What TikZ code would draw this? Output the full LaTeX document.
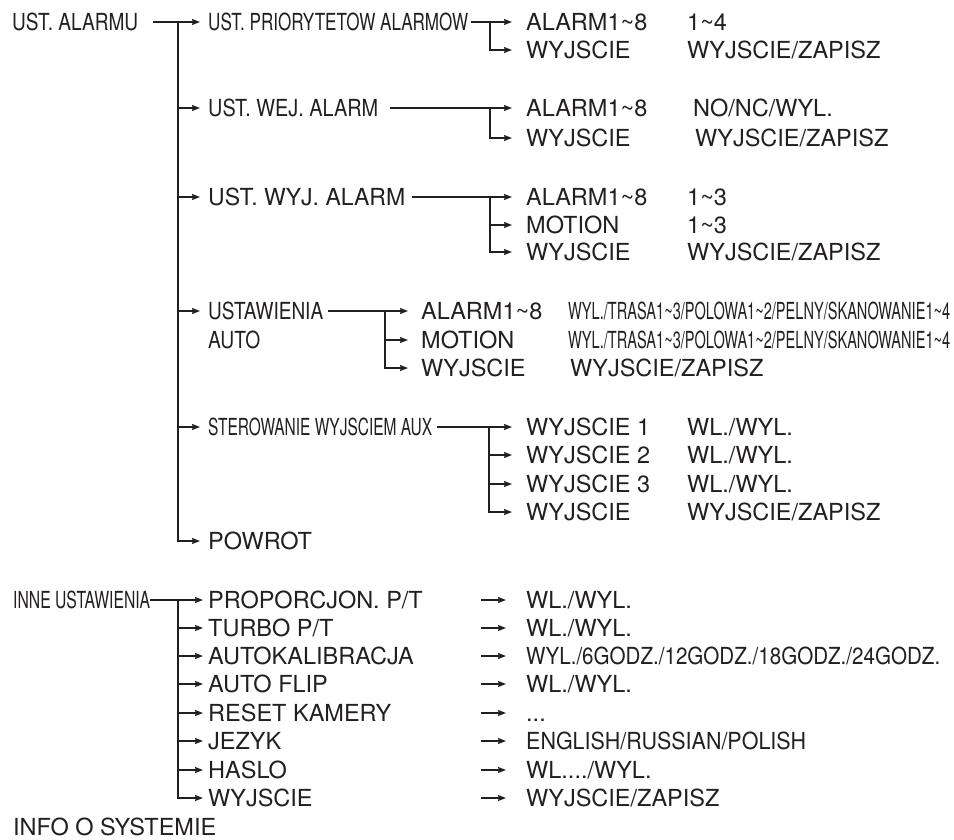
\documentclass[tikz,border=0pt]{standalone}
\usepackage{fontspec}
\usepackage{graphicx}
\setmainfont{TeX Gyre Heros}
\usetikzlibrary{arrows.meta}
\definecolor{ink}{RGB}{35,31,32}
\newcommand{\sqz}[2]{\resizebox{#1pt}{\height}{#2}}
\begin{document}
\begin{tikzpicture}[x=1pt,y=-1pt,
  lbl/.style={anchor=west, inner sep=0pt, text height=17pt, text depth=0pt,
              font=\fontsize{23.5}{28}\selectfont, text=ink},
  ln/.style={draw=ink, line width=1.6pt},
  arr/.style={ln, -{Stealth[length=8pt,width=6pt,inset=1pt]}}]
\path[use as bounding box] (0,0) rectangle (954,839);

% ---------- UST. ALARMU ----------
\node[lbl] (root) at (12,22) {\sqz{126}{UST. ALARMU}};
\node[lbl] (c1) at (208,22) {\sqz{260}{UST. PRIORYTETOW ALARMOW}};
\node[lbl] (c2) at (208,108) {\sqz{170}{UST. WEJ. ALARM}};
\node[lbl] (c3) at (208,197) {\sqz{197}{UST. WYJ. ALARM}};
\node[lbl] (c4) at (208,311) {\sqz{115}{USTAWIENIA}};
\node[lbl] (c4b) at (208,340) {\sqz{52}{AUTO}};
\node[lbl] (c5) at (208,427) {\sqz{224}{STEROWANIE WYJSCIEM AUX}};
\node[lbl] (c6) at (208,541) {POWROT};
\coordinate (va) at (178,0);
\draw[arr] ([xshift=15pt]root.east) -- ([xshift=-8pt]c1.west);
\draw[arr] (va |- c1.west) |- ([xshift=-8pt]c6.west);
\foreach \k in {2,...,5} \draw[arr] (va |- c\k.west) -- ([xshift=-8pt]c\k.west);

% group 1
\node[lbl] (g1a) at (526,22) {ALARM1\textasciitilde 8};
\node[lbl] (g1b) at (526,50) {WYJSCIE};
\node[lbl] (h1a) at (687,22) {1\textasciitilde 4};
\node[lbl] (h1b) at (687,50) {WYJSCIE/ZAPISZ};
\coordinate (vb1) at (490,0);
\draw[arr] ([xshift=3pt]c1.east) -- ([xshift=-14pt]g1a.west);
\draw[arr] (vb1 |- g1a.west) |- ([xshift=-14pt]g1b.west);

% group 2
\node[lbl] (g2a) at (526,108) {ALARM1\textasciitilde 8};
\node[lbl] (g2b) at (526,138) {WYJSCIE};
\node[lbl] (h2a) at (693,108) {NO/NC/WYL.};
\node[lbl] (h2b) at (695,138) {WYJSCIE/ZAPISZ};
\coordinate (vb2) at (490,0);
\draw[arr] ([xshift=12pt]c2.east) -- ([xshift=-14pt]g2a.west);
\draw[arr] (vb2 |- g2a.west) |- ([xshift=-14pt]g2b.west);

% group 3
\node[lbl] (g3a) at (526,197) {ALARM1\textasciitilde 8};
\node[lbl] (g3b) at (526,225) {MOTION};
\node[lbl] (g3c) at (526,252) {WYJSCIE};
\node[lbl] (h3a) at (687,197) {1\textasciitilde 3};
\node[lbl] (h3b) at (687,225) {1\textasciitilde 3};
\node[lbl] (h3c) at (687,252) {WYJSCIE/ZAPISZ};
\coordinate (vb3) at (490,0);
\draw[arr] ([xshift=7pt]c3.east) -- ([xshift=-14pt]g3a.west);
\draw[arr] (vb3 |- g3a.west) |- ([xshift=-14pt]g3c.west);
\draw[arr] (vb3 |- g3b.west) -- ([xshift=-14pt]g3b.west);

% group 4
\node[lbl] (g4a) at (421,311) {ALARM1\textasciitilde 8};
\node[lbl] (g4b) at (421,340) {MOTION};
\node[lbl] (g4c) at (421,368) {WYJSCIE};
\node[lbl] (h4a) at (568,311) {\sqz{382}{WYL./TRASA1\textasciitilde 3/POLOWA1\textasciitilde 2/PELNY/SKANOWANIE1\textasciitilde 4}};
\node[lbl] (h4b) at (568,340) {\sqz{382}{WYL./TRASA1\textasciitilde 3/POLOWA1\textasciitilde 2/PELNY/SKANOWANIE1\textasciitilde 4}};
\node[lbl] (h4c) at (570,368) {WYJSCIE/ZAPISZ};
\coordinate (vb4) at (385,0);
\draw[arr] ([xshift=5pt]c4.east) -- ([xshift=-13pt]g4a.west);
\draw[arr] (vb4 |- g4a.west) |- ([xshift=-13pt]g4c.west);
\draw[arr] (vb4 |- g4b.west) -- ([xshift=-13pt]g4b.west);

% group 5
\node[lbl] (g5a) at (526,427) {WYJSCIE 1};
\node[lbl] (g5b) at (526,455) {WYJSCIE 2};
\node[lbl] (g5c) at (526,484) {WYJSCIE 3};
\node[lbl] (g5d) at (526,512) {WYJSCIE};
\node[lbl] (h5a) at (687,427) {WL./WYL.};
\node[lbl] (h5b) at (687,455) {WL./WYL.};
\node[lbl] (h5c) at (687,484) {WL./WYL.};
\node[lbl] (h5d) at (687,512) {WYJSCIE/ZAPISZ};
\coordinate (vb5) at (489,0);
\draw[arr] ([xshift=5pt]c5.east) -- ([xshift=-14pt]g5a.west);
\draw[arr] (vb5 |- g5a.west) |- ([xshift=-14pt]g5d.west);
\draw[arr] (vb5 |- g5b.west) -- ([xshift=-14pt]g5b.west);
\draw[arr] (vb5 |- g5c.west) -- ([xshift=-14pt]g5c.west);

% ---------- INNE USTAWIENIA ----------
\node[lbl] (root2) at (13,600) {\sqz{137}{INNE USTAWIENIA}};
\node[lbl] (d1) at (208,600) {PROPORCJON. P/T};
\node[lbl] (d2) at (208,628) {TURBO P/T};
\node[lbl] (d3) at (208,656) {AUTOKALIBRACJA};
\node[lbl] (d4) at (208,684) {AUTO FLIP};
\node[lbl] (d5) at (208,713) {RESET KAMERY};
\node[lbl] (d6) at (208,741) {JEZYK};
\node[lbl] (d7) at (208,770) {HASLO};
\node[lbl] (d8) at (208,798) {WYJSCIE};
\node[lbl] (e1) at (526,600) {WL./WYL.};
\node[lbl] (e2) at (526,628) {WL./WYL.};
\node[lbl] (e3) at (526,656) {\sqz{414}{WYL./6GODZ./12GODZ./18GODZ./24GODZ.}};
\node[lbl] (e4) at (526,684) {WL./WYL.};
\node[lbl] (e5) at (526,713) {...};
\node[lbl] (e6) at (526,741) {\sqz{280}{ENGLISH/RUSSIAN/POLISH}};
\node[lbl] (e7) at (526,770) {WL..../WYL.};
\node[lbl] (e8) at (526,798) {WYJSCIE/ZAPISZ};
\coordinate (vc) at (178,0);
\draw[arr] (root2.east) -- ([xshift=-5pt]d1.west);
\draw[arr] (vc |- d1.west) |- ([xshift=-5pt]d8.west);
\foreach \k in {2,...,7} \draw[arr] (vc |- d\k.west) -- ([xshift=-5pt]d\k.west);
\foreach \k in {1,...,8} \draw[arr] ([xshift=-45pt]e\k.west) -- ([xshift=-20pt]e\k.west);

\node[lbl] (info) at (13,827) {INFO O SYSTEMIE};
\end{tikzpicture}
\end{document}
